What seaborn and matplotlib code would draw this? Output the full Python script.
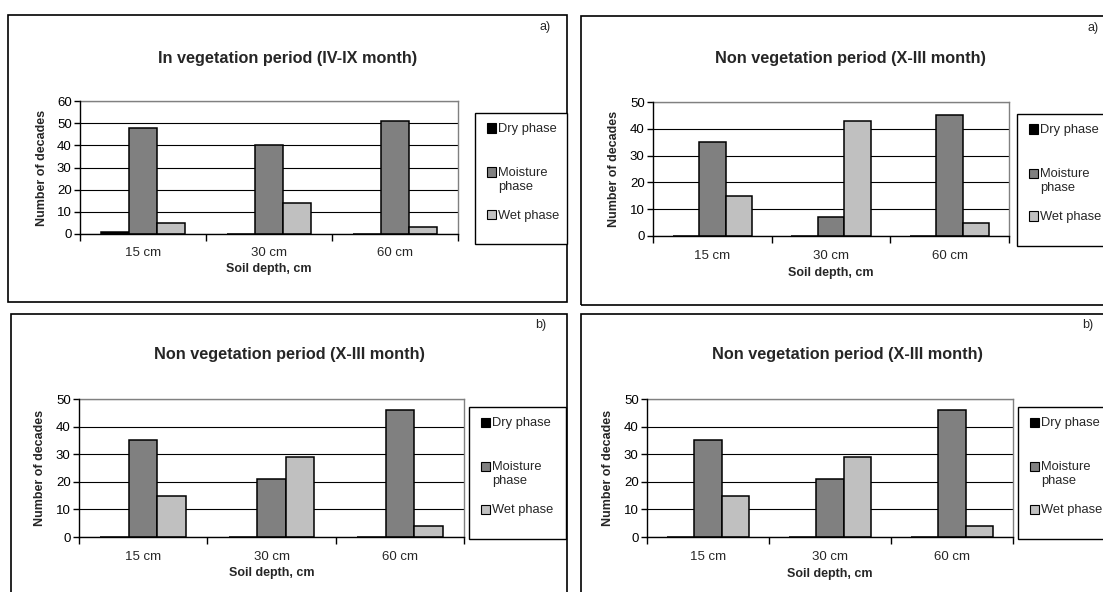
import matplotlib
matplotlib.use("Agg")
import matplotlib.pyplot as plt
import seaborn as sns
import pandas as pd
from matplotlib.patches import Rectangle

# ---------------- data ----------------
depths = ["15 cm", "30 cm", "60 cm"]
phases = ["Dry phase", "Moisture phase", "Wet phase"]
legend_labels = ["Dry phase", "Moisture\nphase", "Wet phase"]
phase_colors = ["#000000", "#808080", "#c0c0c0"]

p1_dry = [1, 0, 0]
p1_moist = [48, 40, 51]
p1_wet = [5, 14, 3]

p2_dry = [0, 0, 0]
p2_moist = [35, 7, 45]
p2_wet = [15, 43, 5]

p3_dry = [0, 0, 0]
p3_moist = [35, 21, 46]
p3_wet = [15, 29, 4]

p4_dry = [0, 0, 0]
p4_moist = [35, 21, 46]
p4_wet = [15, 29, 4]

titles = ["In vegetation period (IV-IX month)",
          "Non vegetation period (X-III month)",
          "Non vegetation period (X-III month)",
          "Non vegetation period (X-III month)"]
tags = ["a)", "a)", "b)", "b)"]
y_max = [60, 50, 50, 50]
x_title = "Soil depth, cm"
y_title = "Number of decades"

series = [(p1_dry, p1_moist, p1_wet), (p2_dry, p2_moist, p2_wet),
          (p3_dry, p3_moist, p3_wet), (p4_dry, p4_moist, p4_wet)]

# ---------------- layout (pixels) ----------------
W, H = 1103, 592
sns.set_theme(style="white")
plt.rcParams["font.family"] = ["Liberation Sans", "DejaVu Sans"]

fig = plt.figure(figsize=(W / 100, H / 100), dpi=100)
fig.patch.set_facecolor("white")

def fx(x):
    return x / W

def fy(y):
    return 1 - y / H

layouts = [
    dict(box=(8, 15, 567, 302), ax=(80, 101, 458, 234), leg=(475, 113, 567, 244),
         title=(288, 58), tag=(545, 27), ylab=42, xtick=253, xlab=269),
    dict(box=(581, 16, 1115, 305), ax=(653, 102, 1009, 236), leg=(1017, 114, 1115, 246),
         title=(850, 59), tag=(1093, 28), ylab=614, xtick=256, xlab=273),
    dict(box=(11, 314, 567, 600), ax=(79, 399, 464, 537), leg=(469, 407, 566, 539),
         title=(289, 355), tag=(541, 325), ylab=40, xtick=557, xlab=573),
    dict(box=(581, 314, 1115, 600), ax=(647, 399, 1013, 537), leg=(1018, 407, 1115, 539),
         title=(847, 355), tag=(1088, 325), ylab=608, xtick=557, xlab=574),
]

for (dry, moist, wet), L, title, tag, ym in zip(series, layouts, titles, tags, y_max):
    # panel frame
    bx0, by0, bx1, by1 = L["box"]
    fig.add_artist(Rectangle((fx(bx0), fy(by1)), fx(bx1 - bx0), (by1 - by0) / H,
                             transform=fig.transFigure, fill=False,
                             edgecolor="black", linewidth=1.2, clip_on=False))

    df = pd.DataFrame({
        "depth": depths * 3,
        "phase": [phases[0]] * 3 + [phases[1]] * 3 + [phases[2]] * 3,
        "value": list(dry) + list(moist) + list(wet),
    })
    ax0, ay0, ax1, ay1 = L["ax"]
    ax = fig.add_axes([fx(ax0), fy(ay1), fx(ax1 - ax0), (ay1 - ay0) / H])
    sns.barplot(data=df, x="depth", y="value", hue="phase", hue_order=phases,
                order=depths, palette=phase_colors, saturation=1, width=0.667,
                edgecolor="black", linewidth=1.1, legend=False, ax=ax, zorder=3)
    ax.set_xlim(-0.5, 2.5)
    ax.set_ylim(0, ym)
    ax.set_yticks(range(0, ym + 1, 10))
    ax.yaxis.grid(True, color="black", linewidth=0.8, zorder=0)
    ax.set_axisbelow(True)
    ax.set_facecolor("white")
    for s in ["top", "right"]:
        ax.spines[s].set_color("#808080")
        ax.spines[s].set_linewidth(1.0)
    for s in ["left", "bottom"]:
        ax.spines[s].set_color("black")
        ax.spines[s].set_linewidth(1.0)
        ax.spines[s].set_zorder(4)
    ax.tick_params(axis="y", direction="out", length=4, width=1, color="black",
                   labelsize=9.5, labelcolor="black", pad=2, left=True)
    ax.set_xticks(range(3))
    ax.set_xticklabels([])
    ax.set_xticks([-0.5, 0.5, 1.5, 2.5], minor=True)
    ax.tick_params(axis="x", which="major", length=0)
    ax.tick_params(axis="x", which="minor", direction="out", length=5, width=1,
                   color="black", bottom=True)
    ax.set_xlabel("")
    ax.set_ylabel("")

    # category labels under each group
    for i, d in enumerate(depths):
        xpx = ax0 + (i + 0.5) * (ax1 - ax0) / 3
        fig.text(fx(xpx), fy(L["xtick"]), d, ha="center", va="center", fontsize=9.5)
    fig.text(fx((ax0 + ax1) / 2), fy(L["xlab"]), x_title, ha="center", va="center",
             fontsize=9, fontweight="bold")
    fig.text(fx(L["ylab"]), fy((ay0 + ay1) / 2), y_title, ha="center", va="center",
             rotation=90, fontsize=9, fontweight="bold")
    fig.text(fx(L["title"][0]), fy(L["title"][1]), title, ha="center", va="center",
             fontsize=11.7, fontweight="bold")
    fig.text(fx(L["tag"][0]), fy(L["tag"][1]), tag, ha="center", va="center", fontsize=9)

    # legend
    lx0, ly0, lx1, ly1 = L["leg"]
    fig.add_artist(Rectangle((fx(lx0), fy(ly1)), fx(lx1 - lx0), (ly1 - ly0) / H,
                             transform=fig.transFigure, facecolor="white",
                             edgecolor="black", linewidth=1.0, clip_on=False))
    entry_y = [15, 59, 102]
    for lab, col, ey in zip(legend_labels, phase_colors, entry_y):
        fig.add_artist(Rectangle((fx(lx0 + 12), fy(ly0 + ey + 4.5)), fx(9), 9 / H,
                                 transform=fig.transFigure, facecolor=col,
                                 edgecolor="black", linewidth=0.8))
        fig.text(fx(lx0 + 23), fy(ly0 + ey + 1), lab.split("\n")[0], ha="left",
                 va="center", fontsize=9.3)
        if "\n" in lab:
            fig.text(fx(lx0 + 23), fy(ly0 + ey + 15), lab.split("\n")[1], ha="left",
                     va="center", fontsize=9.3)

fig.savefig("out.png", dpi=100, facecolor="white")
